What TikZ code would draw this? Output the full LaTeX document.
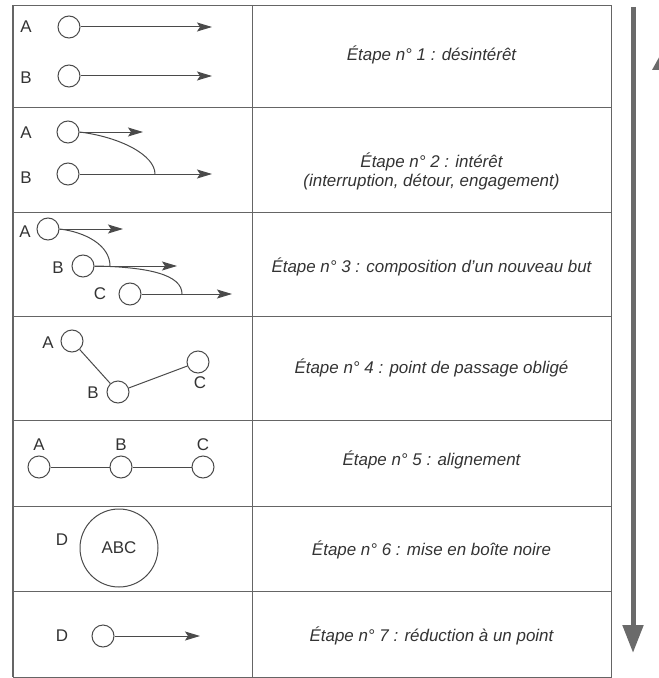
\documentclass[tikz,border=0pt]{standalone}
\usepackage{fontspec}
\setmainfont{Liberation Sans}
\usetikzlibrary{arrows.meta}
\definecolor{ink}{HTML}{4A4A4A}
\definecolor{txt}{HTML}{333333}
\definecolor{bigarrow}{HTML}{6A6A6A}
\begin{document}
\begin{tikzpicture}[x=1bp,y=-1bp,
  pt/.style={circle,draw=ink,line width=1bp,minimum size=22bp,inner sep=0pt},
  lbl/.style={text=txt,font=\fontsize{17}{19}\selectfont,inner sep=0pt},
  etapetxt/.style={text=txt,font=\fontsize{17}{19}\selectfont\itshape,align=center,anchor=base,inner sep=0pt},
  flow/.style={draw=ink,line width=1bp,-{Stealth[length=15bp,width=9bp,inset=3bp]}},
  link/.style={draw=ink,line width=1bp},
  gridline/.style={draw=ink!85,line width=0.9bp}
]
\useasboundingbox (0,0) rectangle (659,678);
% table
\draw[gridline] (13,5) rectangle (611,677);
\draw[gridline,line width=1.6bp] (13,5) -- (13,677);
\draw[gridline] (252,5) -- (252,677);
\foreach \yy in {107,212,316,420,506,591}
  \draw[gridline] (13,\yy) -- (611,\yy);

% row 1
\node[pt] (a1) at (69,27) {};
\node[pt] (b1) at (69,76) {};
\node[lbl] (la1) at (26,27) {A};
\node[lbl] (lb1) at (26,78) {B};
\coordinate (ea1) at (212,27);
\coordinate (eb1) at (212,76);
\draw[flow] (a1) -- (ea1);
\draw[flow] (b1) -- (eb1);
\node[etapetxt] (t1) at (431.5,61) {Étape n° 1 : désintérêt};

% row 2
\node[pt] (a2) at (68,132) {};
\node[pt] (b2) at (68,174) {};
\node[lbl] (la2) at (26,133) {A};
\node[lbl] (lb2) at (26,178) {B};
\coordinate (ea2) at (143,132);
\coordinate (eb2) at (212,174);
\coordinate (j2) at (155,174);
\draw[flow] (a2) -- (ea2);
\draw[flow] (b2) -- (eb2);
\draw[link] (a2.east) .. controls (120,137) and (155,155) .. (j2);
\node[etapetxt] (t2) at (431.5,186) {Étape n° 2 : intérêt\\(interruption, détour, engagement)};

% row 3
\node[pt] (a3) at (48,229) {};
\node[pt] (b3) at (83,266) {};
\node[pt] (c3) at (130,294) {};
\node[lbl] (la3) at (25,232) {A};
\node[lbl] (lb3) at (58,268) {B};
\node[lbl] (lc3) at (100,294) {C};
\coordinate (ea3) at (123,229);
\coordinate (eb3) at (177,266);
\coordinate (ec3) at (232,294);
\coordinate (j3a) at (110,266);
\coordinate (j3b) at (182,294);
\draw[flow] (a3) -- (ea3);
\draw[flow] (b3) -- (eb3);
\draw[flow] (c3) -- (ec3);
\draw[link] (a3.east) .. controls (85,232) and (110,245) .. (j3a);
\draw[link] (b3.east) .. controls (150,267) and (182,275) .. (j3b);
\node[etapetxt] (t3) at (431.5,272) {Étape n° 3 : composition d'un nouveau but};

% row 4
\node[pt] (a4) at (72,341) {};
\node[pt] (b4) at (118,392) {};
\node[pt] (c4) at (198,362) {};
\node[lbl] (la4) at (48,343) {A};
\node[lbl] (lb4) at (93,393) {B};
\node[lbl] (lc4) at (200,383) {C};
\draw[link] (a4) -- (b4);
\draw[link] (b4) -- (c4);
\node[etapetxt] (t4) at (431.5,373) {Étape n° 4 : point de passage obligé};

% row 5
\node[pt] (a5) at (39,467) {};
\node[pt] (b5) at (121,467) {};
\node[pt] (c5) at (203,467) {};
\node[lbl] (la5) at (39,445) {A};
\node[lbl] (lb5) at (121,445) {B};
\node[lbl] (lc5) at (203,445) {C};
\draw[link] (a5) -- (b5);
\draw[link] (b5) -- (c5);
\node[etapetxt] (t5) at (431.5,465) {Étape n° 5 : alignement};

% row 6
\node[lbl] (ld6) at (62,540) {D};
\node[circle,draw=ink,line width=1bp,minimum size=78bp,inner sep=0pt,text=txt,font=\fontsize{17}{19}\selectfont] (abc) at (119,548) {ABC};
\node[etapetxt] (t6) at (431.5,555) {Étape n° 6 : mise en boîte noire};

% row 7
\node[lbl] (ld7) at (62,636) {D};
\node[pt] (d7) at (103,636) {};
\coordinate (ed7) at (200,636);
\draw[flow] (d7) -- (ed7);
\node[etapetxt] (t7) at (431.5,641) {Étape n° 7 : réduction à un point};

% big arrow
\coordinate (ar1) at (633,7);
\coordinate (ar2) at (633,653);
\draw[bigarrow,line width=5bp,-{Triangle[length=28bp,width=20bp]}] (ar1) -- (ar2);

% partial arrowhead cut at the right edge
\begin{scope}
\clip (0,0) rectangle (659,678);
\fill[bigarrow] (652,70) -- (662,52) -- (672,70) -- cycle;
\end{scope}
\end{tikzpicture}
\end{document}
